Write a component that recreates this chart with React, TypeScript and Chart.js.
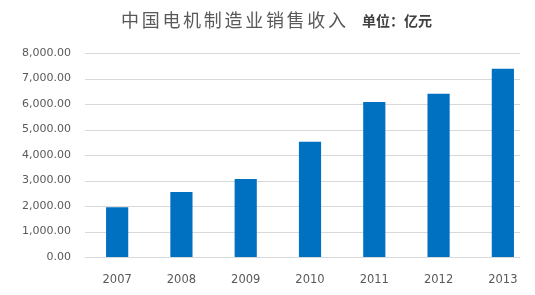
import React, { useEffect, useRef } from "react";
import { Chart, registerables } from "chart.js";

Chart.register(...registerables);

const categories = ["2007", "2008", "2009", "2010", "2011", "2012", "2013"];
const revenue = [1950, 2550, 3060, 4520, 6080, 6400, 7380];
const titleMain = "中国电机制造业销售收入";
const titleUnit = "单位：亿元";
const yMin = 0;
const yMax = 8000;
const yStep = 1000;

const gridPlugin = {
  id: "customGrid",
  beforeDatasetsDraw(chart: any) {
    const { ctx, chartArea, scales } = chart;
    const y = scales.y;
    const right = chartArea.right - 15;
    ctx.save();
    ctx.strokeStyle = "#d9d9d9";
    ctx.lineWidth = 1;
    y.ticks.forEach((t: any) => {
      const py = Math.round(y.getPixelForValue(t.value)) + 0.5;
      ctx.beginPath();
      ctx.moveTo(chartArea.left, py);
      ctx.lineTo(right, py);
      ctx.stroke();
    });
    ctx.restore();
  },
};

const titlePlugin = {
  id: "twoPartTitle",
  afterDraw(chart: any) {
    const { ctx } = chart;
    ctx.save();
    ctx.textBaseline = "middle";
    ctx.textAlign = "left";
    ctx.fillStyle = "#595959";
    ctx.font = '18px "Noto Sans CJK SC"';
    (ctx as any).letterSpacing = "2.7px";
    ctx.fillText(titleMain, 121, 20);
    (ctx as any).letterSpacing = "0px";
    ctx.fillStyle = "#404040";
    ctx.font = 'bold 14px "Noto Sans CJK SC"';
    ctx.fillText(titleUnit, 362, 21);
    ctx.restore();
  },
};

export default function App() {
  const ref = useRef<HTMLCanvasElement>(null);
  useEffect(() => {
    document.body.style.margin = "0";
    const canvas = ref.current;
    if (!canvas) return;
    const chart = new Chart(canvas, {
      type: "bar",
      data: {
        labels: categories,
        datasets: [
          {
            data: revenue,
            backgroundColor: "#0070C0",
            categoryPercentage: 1,
            barPercentage: 0.345,
          },
        ],
      },
      options: {
        animation: false,
        responsive: false,
        maintainAspectRatio: false,
        layout: { padding: { top: 53, left: 0, right: 0, bottom: 0 } },
        plugins: {
          legend: { display: false },
          title: { display: false },
          tooltip: { enabled: false },
        },
        scales: {
          x: {
            grid: { display: false, drawTicks: false },
            border: { display: false },
            ticks: {
              color: "#595959",
              font: { family: "DejaVu Sans", size: 11.5 },
              padding: 16,
              maxRotation: 0,
            },
            afterFit(scale: any) {
              scale.height = 38;
            },
          },
          y: {
            min: yMin,
            max: yMax,
            grid: { display: false, drawTicks: false },
            border: { display: false },
            ticks: {
              stepSize: yStep,
              color: "#595959",
              font: { family: "DejaVu Sans", size: 11 },
              padding: 14,
              callback: (v: any) =>
                Number(v).toLocaleString("en-US", {
                  minimumFractionDigits: 2,
                  maximumFractionDigits: 2,
                }),
            },
            afterFit(scale: any) {
              scale.width = 85;
            },
          },
        },
      },
      plugins: [gridPlugin, titlePlugin],
    });
    return () => chart.destroy();
  }, []);
  return <canvas ref={ref} width={535} height={295} style={{ display: "block" }} />;
}
